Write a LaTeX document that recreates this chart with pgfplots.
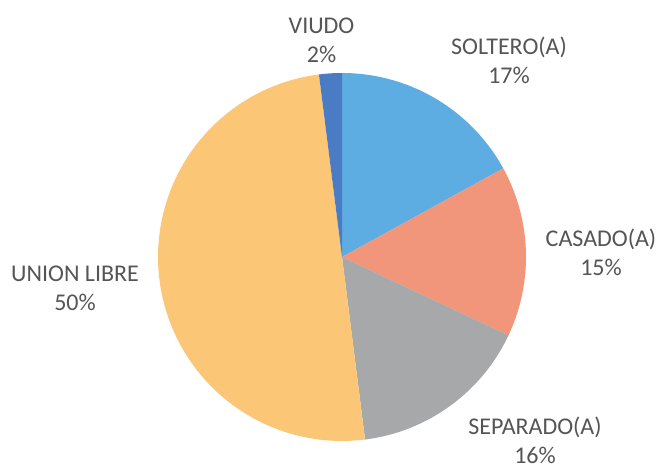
\documentclass[border=0pt]{standalone}
\usepackage{pgfplots}
\pgfplotsset{compat=1.18}
\usepackage{fontspec}
\setmainfont{Carlito}
\definecolor{cSol}{RGB}{93,173,226}
\definecolor{cCas}{RGB}{241,150,122}
\definecolor{cSep}{RGB}{166,168,170}
\definecolor{cUni}{RGB}{251,199,119}
\definecolor{cViu}{RGB}{74,124,196}
\definecolor{txt}{RGB}{85,85,85}
% percentages, clockwise from 12 o'clock
\def\pSol{17}\def\pCas{15}\def\pSep{16}\def\pUni{50}\def\pViu{2}
\pgfmathsetmacro\aA{0}
\pgfmathsetmacro\aB{\aA+3.6*\pSol}
\pgfmathsetmacro\aC{\aB+3.6*\pCas}
\pgfmathsetmacro\aD{\aC+3.6*\pSep}
\pgfmathsetmacro\aE{\aD+3.6*\pUni}
\pgfmathsetmacro\aF{\aE+3.6*\pViu}
\def\cx{342}\def\cy{215}\def\r{184}
\begin{document}
\begin{tikzpicture}
\begin{axis}[
  scale only axis, width=495pt, height=354pt,
  xmin=0, xmax=660, ymin=0, ymax=472,
  hide axis, clip=false,
  every axis plot/.append style={draw=none, samples=80, variable=\t},
]
\path (rel axis cs:0,0) rectangle (rel axis cs:1,1);
\addplot[fill=cSol, domain=\aA:\aB] ({\cx+\r*sin(\t)},{\cy+\r*cos(\t)}) -- (\cx,\cy) -- cycle;
\addplot[fill=cCas, domain=\aB:\aC] ({\cx+\r*sin(\t)},{\cy+\r*cos(\t)}) -- (\cx,\cy) -- cycle;
\addplot[fill=cSep, domain=\aC:\aD] ({\cx+\r*sin(\t)},{\cy+\r*cos(\t)}) -- (\cx,\cy) -- cycle;
\addplot[fill=cUni, domain=\aD:\aE] ({\cx+\r*sin(\t)},{\cy+\r*cos(\t)}) -- (\cx,\cy) -- cycle;
\addplot[fill=cViu, domain=\aE:\aF] ({\cx+\r*sin(\t)},{\cy+\r*cos(\t)}) -- (\cx,\cy) -- cycle;
\tikzset{lab/.style={align=center, text=txt, font=\fontsize{18}{22}\selectfont, inner sep=0pt}}
\node[lab] at (axis cs:321.5,432) {VIUDO\\2\%};
\node[lab] at (axis cs:509,412) {SOLTERO(A)\\17\%};
\node[lab] at (axis cs:601,220) {CASADO(A)\\15\%};
\node[lab] at (axis cs:535,32) {SEPARADO(A)\\16\%};
\node[lab] at (axis cs:75,183.5) {UNION LIBRE\\50\%};
\end{axis}
\end{tikzpicture}
\end{document}
